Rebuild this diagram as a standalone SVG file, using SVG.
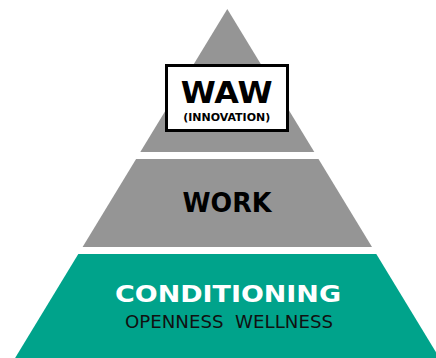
<svg xmlns="http://www.w3.org/2000/svg" width="436" height="358" viewBox="0 0 436 358">
<style>
.gray{fill:#959595}
.green{fill:#00A38B}
.b{font-family:"DejaVu Sans",Verdana,sans-serif;font-weight:bold;text-anchor:middle}
.r{font-family:"DejaVu Sans",Verdana,sans-serif;text-anchor:middle}
</style>
<rect width="436" height="358" fill="#fff"/>
<g id="waw">
<polygon class="gray" points="227.3,9 314.3,152 140.3,152"/>
<rect x="166.5" y="65.5" width="121" height="65" fill="#fff" stroke="#000" stroke-width="3"/>
<text class="b" x="226.7" y="103.3" font-size="31" fill="#000" textLength="92" lengthAdjust="spacingAndGlyphs">WAW</text>
<text class="b" x="226.7" y="121" font-size="10.7" fill="#000" textLength="87" lengthAdjust="spacingAndGlyphs">(INNOVATION)</text>
</g>
<g id="work">
<polygon class="gray" points="136.1,159 318.5,159 372,247 82.6,247"/>
<text class="b" x="227" y="212.3" font-size="26" fill="#000" textLength="89" lengthAdjust="spacingAndGlyphs">WORK</text>
</g>
<g id="conditioning">
<polygon class="green" points="78.3,254 376.3,254 439.5,358 15.1,358"/>
<text class="b" x="228" y="301.7" font-size="23" fill="#fff" textLength="226" lengthAdjust="spacingAndGlyphs">CONDITIONING</text>
<text class="r" x="229" y="328.3" font-size="17.3" fill="#111" textLength="208" lengthAdjust="spacingAndGlyphs" xml:space="preserve">OPENNESS  WELLNESS</text>
</g>
<g id="connectors"/>
</svg>
